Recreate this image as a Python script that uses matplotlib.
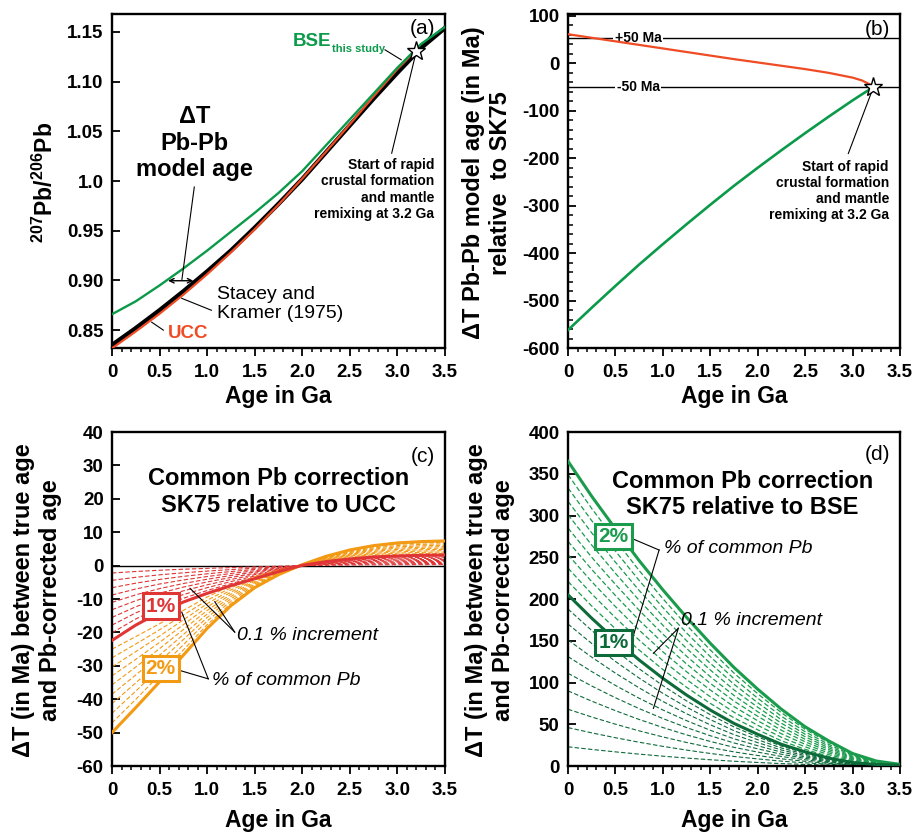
import matplotlib
matplotlib.use("Agg")
import matplotlib.pyplot as plt
from matplotlib.ticker import MultipleLocator

plt.rcParams['font.family'] = ['Liberation Sans', 'DejaVu Sans']
plt.rcParams['axes.unicode_minus'] = False
plt.rcParams['mathtext.fontset'] = 'custom'
plt.rcParams['mathtext.rm'] = 'Liberation Sans'
plt.rcParams['mathtext.bf'] = 'Liberation Sans:bold'
plt.rcParams['mathtext.it'] = 'Liberation Sans:italic'

# ---- data ----
ages = [0, 0.25, 0.5, 0.75, 1.0, 1.25, 1.5, 1.75, 2.0, 2.25, 2.5, 2.75, 3.0, 3.25, 3.5]

# (a) 207Pb/206Pb growth curves
sk75 = [0.835, 0.852, 0.870, 0.889, 0.909, 0.930, 0.953, 0.977, 1.002, 1.029, 1.056, 1.083, 1.109, 1.134, 1.154]
bse = [0.866, 0.879, 0.895, 0.912, 0.930, 0.949, 0.968, 0.988, 1.010, 1.036, 1.062, 1.088, 1.114, 1.138, 1.155]
ucc_age = [0, 0.25, 0.5, 0.75, 1.0, 1.25, 1.5, 1.75, 2.0, 2.25, 2.5, 2.75, 3.0, 3.2]
ucc = [0.8317, 0.8487, 0.8665, 0.8857, 0.9062, 0.9282, 0.9514, 0.9762, 1.0025, 1.0295, 1.0571, 1.0852, 1.1126, 1.132]
star_a = (3.2, 1.131)

# (b) model age difference relative to SK75 (Ma)
b_age = [0, 0.25, 0.5, 0.75, 1.0, 1.25, 1.5, 1.75, 2.0, 2.25, 2.5, 2.75, 3.0, 3.1, 3.22]
ucc_dt = [61.5, 54, 46.5, 39, 31.5, 24, 16.5, 9, 2, -5, -12, -20, -30, -36, -48]
bse_dt = [-562, -515, -469, -424, -381, -339, -298, -258, -220, -183, -147, -112, -78, -65, -50]
star_b = (3.22, -50)
ref_lines = [54, -49]
ref_labels = ['+50 Ma', '-50 Ma']

# (c) common Pb correction, SK75 vs UCC (Ma)
c_1pct = [-22.4, -17.8, -14.0, -10.9, -8.3, -6.0, -3.9, -1.8, 0.1, 1.2, 2.0, 2.6, 2.9, 3.1, 3.2]
c_2pct = [-50.0, -42.5, -34.8, -26.8, -18.8, -12.0, -6.6, -2.7, 0.3, 2.8, 4.7, 6.0, 6.8, 7.2, 7.4]
# values at 0 Ga of the dashed 0.1 % steps
c_low_start = [-2.2, -4.4, -6.6, -8.8, -11.0, -13.2, -15.5, -17.8, -20.1]
c_high_start = [-25.0, -27.6, -30.3, -33.0, -35.7, -38.5, -41.3, -44.2, -47.1]

# (d) common Pb correction, SK75 vs BSE (Ma)
d_1pct = [205, 177, 151, 127, 105, 85, 67, 51, 38, 26, 17, 9.4, 4.2, 1.8, 1.0]
d_2pct = [365, 323, 284, 246, 211, 178, 147, 118, 92, 68, 47, 30, 15, 6, 2]
d_low_start = [23, 46, 68, 90, 111, 131, 151, 170, 188]
d_high_start = [221, 237, 253, 269, 285, 301, 317, 333, 349]

xticks = [0, 0.5, 1.0, 1.5, 2.0, 2.5, 3.0, 3.5]
xticklabels = ['0', '0.5', '1.0', '1.5', '2.0', '2.5', '3.0', '3.5']

col_ucc = '#ef4b24'
col_bse = '#0a9a4a'
col_red = '#e03535'
col_orange = '#f39a14'
col_g2 = '#1a9c4c'
col_g1 = '#0d6b3a'
star_note = 'Start of rapid\ncrustal formation\nand mantle\nremixing at 3.2 Ga'

fig = plt.figure(figsize=(9.15, 8.32), dpi=100)
ax_a = fig.add_axes([0.1224, 0.5817, 0.3639, 0.4014])
ax_b = fig.add_axes([0.6208, 0.5817, 0.3628, 0.4014])
ax_c = fig.add_axes([0.1224, 0.0793, 0.3639, 0.4014])
ax_d = fig.add_axes([0.6208, 0.0793, 0.3628, 0.4014])


def style(ax, ylim, yticks, yticklabels, yminor=None, xlab_y=-0.112):
    ax.set_xlim(0, 3.5)
    ax.set_ylim(*ylim)
    ax.set_xticks(xticks)
    ax.set_xticklabels(xticklabels, fontweight='bold')
    ax.xaxis.set_minor_locator(MultipleLocator(0.1))
    ax.set_yticks(yticks)
    ax.set_yticklabels(yticklabels, fontweight='bold')
    if yminor:
        ax.yaxis.set_minor_locator(MultipleLocator(yminor))
    ax.tick_params(axis='x', which='major', direction='out', length=5.5, width=1.3, pad=6, labelsize=13.5)
    ax.tick_params(axis='x', which='minor', direction='out', length=3, width=1.1)
    ax.tick_params(axis='y', which='major', direction='in', length=6, width=1.3, pad=6, labelsize=13.5)
    ax.tick_params(axis='y', which='minor', direction='in', length=3.5, width=1.1)
    for s in ax.spines.values():
        s.set_linewidth(1.7)
    ax.set_xlabel('Age in Ga', fontsize=16.5, fontweight='bold')
    ax.xaxis.set_label_coords(0.5, xlab_y)


def line(ax, p, q, lw=0.8):
    ax.plot([p[0], q[0]], [p[1], q[1]], color='black', lw=lw, zorder=6)


# ---------------- (a) ----------------
ax = ax_a
style(ax, (0.832, 1.168), [0.85, 0.90, 0.95, 1.0, 1.05, 1.10, 1.15],
      ['0.85', '0.90', '0.95', '1.0', '1.05', '1.10', '1.15'])
ax.plot(ucc_age, ucc, color=col_ucc, lw=1.6, zorder=3)
ax.plot(ages, sk75, color='black', lw=3.2, zorder=2)
ax.plot(ages, bse, color=col_bse, lw=1.7, zorder=4)
ax.plot(*star_a, marker='*', ms=14, mfc='white', mec='black', mew=1.0, zorder=7)
ax.set_ylabel(r'$\mathbf{^{207}Pb/^{206}Pb}$', fontsize=16.5)
ax.yaxis.set_label_coords(-0.162, 0.495)
ax.text(0.97, 0.985, '(a)', transform=ax.transAxes, ha='right', va='top', fontsize=15)
ax.text(1.90, 1.1356, 'BSE', color=col_bse, fontsize=13.5, fontweight='bold', va='baseline')
ax.text(2.31, 1.1295, 'this study', color=col_bse, fontsize=8, fontweight='bold', va='baseline')
line(ax, (2.87, 1.132), (3.04, 1.122))
ax.text(0.865, 1.038, 'ΔT\nPb-Pb\nmodel age', ha='center', va='center', fontsize=17,
        fontweight='bold', linespacing=1.2)
line(ax, (0.865, 0.994), (0.735, 0.901))
ax.annotate('', xy=(0.59, 0.8997), xytext=(0.855, 0.8997),
            arrowprops=dict(arrowstyle='<->', lw=1.0, color='black', shrinkA=0, shrinkB=0,
                            mutation_scale=8), zorder=6)
ax.text(1.10, 0.894, 'Stacey and\nKramer (1975)', fontsize=14, va='top', linespacing=1.15)
line(ax, (1.045, 0.870), (0.733, 0.882))
ax.text(0.59, 0.8416, 'UCC', color=col_ucc, fontsize=13.5, fontweight='bold', va='baseline')
line(ax, (0.54, 0.850), (0.417, 0.858))
ax.text(3.385, 1.023, star_note, ha='right', va='top', fontsize=10, fontweight='bold', linespacing=1.2)
line(ax, (2.94, 1.028), star_a)

# ---------------- (b) ----------------
ax = ax_b
style(ax, (-600, 104), [100, 0, -100, -200, -300, -400, -500, -600],
      ['100', '0', '-100', '-200', '-300', '-400', '-500', '-600'], yminor=20)
for yv, lab in zip(ref_lines, ref_labels):
    ax.axhline(yv, color='black', lw=1.0, zorder=2)
    ax.text(0.74, yv, lab, ha='center', va='center', fontsize=10, fontweight='bold', zorder=3,
            bbox=dict(boxstyle='square,pad=0.1', fc='white', ec='none'))
ax.plot(b_age, ucc_dt, color=col_ucc, lw=1.6, zorder=4)
ax.plot(b_age, bse_dt, color=col_bse, lw=1.9, zorder=4)
ax.plot(*star_b, marker='*', ms=14, mfc='white', mec='black', mew=1.0, zorder=7)
ax.set_ylabel('ΔT Pb-Pb model age (in Ma)\nrelative  to SK75', fontsize=17, fontweight='bold',
              linespacing=1.2)
ax.yaxis.set_label_coords(-0.169, 0.494)
ax.text(0.97, 0.982, '(b)', transform=ax.transAxes, ha='right', va='top', fontsize=15)
ax.text(3.384, -203, star_note, ha='right', va='top', fontsize=10, fontweight='bold', linespacing=1.2)
line(ax, (2.955, -190), star_b)

# ---------------- (c) ----------------
ax = ax_c
style(ax, (-60, 40), list(range(40, -61, -10)), [str(v) for v in range(40, -61, -10)],
      xlab_y=-0.128)
ax.axhline(0, color='black', lw=1.0, zorder=1)
# dashed 0.1 % steps keep the shape of the neighbouring solid curve
for s in c_low_start:
    ax.plot(ages, [v * s / c_1pct[0] for v in c_1pct], color=col_red, lw=0.8,
            dashes=(4, 2), zorder=2)
for s in c_high_start:
    ax.plot(ages, [v * s / c_2pct[0] for v in c_2pct], color=col_orange, lw=0.8,
            dashes=(4, 2), zorder=2)
ax.plot(ages, c_2pct, color=col_orange, lw=2.2, zorder=3)
ax.plot(ages, c_1pct, color=col_red, lw=2.2, zorder=3)
ax.set_ylabel('ΔT (in Ma) between true age\nand Pb-corrected age', fontsize=17,
              fontweight='bold', linespacing=1.2)
ax.yaxis.set_label_coords(-0.150, 0.497)
ax.text(0.97, 0.955, '(c)', transform=ax.transAxes, ha='right', va='top', fontsize=15)
ax.text(1.75, 29.5, 'Common Pb correction\nSK75 relative to UCC', ha='center', va='top',
        fontsize=17, fontweight='bold', linespacing=1.2)
ax.text(0.513, -12.1, '1%', color=col_red, ha='center', va='center', fontsize=15,
        fontweight='bold', zorder=8,
        bbox=dict(boxstyle='square,pad=0.15', fc='white', ec=col_red, lw=2.2))
ax.text(0.513, -30.7, '2%', color=col_orange, ha='center', va='center', fontsize=15,
        fontweight='bold', zorder=8,
        bbox=dict(boxstyle='square,pad=0.15', fc='white', ec=col_orange, lw=2.2))
ax.text(1.317, -22.2, '0.1 % increment', fontsize=14, style='italic', va='baseline')
line(ax, (1.29, -19.9), (0.82, -6.8))
line(ax, (1.29, -19.9), (1.08, -10.8))
ax.text(1.048, -35.6, '% of common Pb', fontsize=14, style='italic', va='baseline')
line(ax, (1.012, -33.9), (0.733, -13.9))
line(ax, (1.012, -33.9), (0.715, -31.4))

# ---------------- (d) ----------------
ax = ax_d
style(ax, (0, 400), list(range(0, 401, 50)), [str(v) for v in range(0, 401, 50)],
      xlab_y=-0.128)
for s in d_low_start:
    ax.plot(ages, [v * s / d_1pct[0] for v in d_1pct], color=col_g1, lw=0.8,
            dashes=(4, 2), zorder=2)
for s in d_high_start:
    w = (s - d_1pct[0]) / (d_2pct[0] - d_1pct[0])
    ax.plot(ages, [a + w * (b - a) for a, b in zip(d_1pct, d_2pct)], color=col_g2, lw=0.9,
            dashes=(4, 2), zorder=2)
ax.plot(ages, d_2pct, color=col_g2, lw=2.2, zorder=3)
ax.plot(ages, d_1pct, color=col_g1, lw=2.2, zorder=3)
ax.set_ylabel('ΔT (in Ma) between true age\nand Pb-corrected age', fontsize=17,
              fontweight='bold', linespacing=1.2)
ax.yaxis.set_label_coords(-0.160, 0.497)
ax.text(0.97, 0.961, '(d)', transform=ax.transAxes, ha='right', va='top', fontsize=15)
ax.text(1.84, 355, 'Common Pb correction\nSK75 relative to BSE', ha='center', va='top',
        fontsize=17, fontweight='bold', linespacing=1.2)
ax.text(0.478, 274.6, '2%', color=col_g2, ha='center', va='center', fontsize=15,
        fontweight='bold', zorder=8,
        bbox=dict(boxstyle='square,pad=0.15', fc='white', ec=col_g2, lw=2.2))
ax.text(0.478, 148, '1%', color=col_g1, ha='center', va='center', fontsize=15,
        fontweight='bold', zorder=8,
        bbox=dict(boxstyle='square,pad=0.15', fc='white', ec=col_g1, lw=2.2))
ax.text(1.015, 255.5, '% of common Pb', fontsize=14, style='italic', va='baseline')
line(ax, (0.67, 272.7), (0.96, 258.7))
line(ax, (0.96, 258.7), (0.68, 153))
ax.text(1.19, 168.9, '0.1 % increment', fontsize=14, style='italic', va='baseline')
line(ax, (1.163, 165), (0.90, 135))
line(ax, (1.163, 165), (0.90, 69))

fig.savefig('out.png', dpi=100)
